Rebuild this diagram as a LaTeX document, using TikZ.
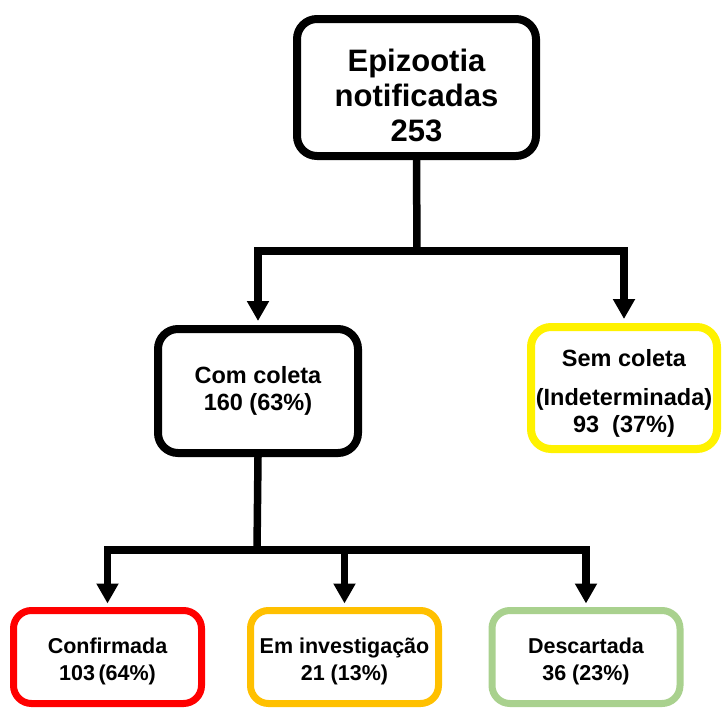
\documentclass[tikz,border=0pt]{standalone}
\usepackage{fontspec}
\setmainfont{Liberation Sans}
\usetikzlibrary{arrows.meta}

\definecolor{laranja}{HTML}{FFC000}
\definecolor{verde}{HTML}{A9D18E}

\tikzset{
	caixa/.style={draw, fill=white, rounded corners=20pt, line width=8pt, align=center, inner sep=0pt},
	caixatopo/.style={caixa, minimum width=239pt, minimum height=137pt, font=\bfseries\fontsize{31}{35}\selectfont},
	caixameio/.style={caixa, minimum width=200pt, minimum height=124pt, font=\bfseries\fontsize{23.5}{27}\selectfont},
	caixabaixo/.style={caixa, line width=7pt, rounded corners=18pt, minimum width=188pt, minimum height=93pt, font=\bfseries\fontsize{21.5}{27}\selectfont},
	linha/.style={line width=7.5pt, line join=miter},
	seta/.style={linha, -{Triangle[width=21pt, length=20pt]}, shorten >=4pt},
}

\begin{document}
\begin{tikzpicture}[x=1pt, y=-1pt]
	\useasboundingbox (0,0) rectangle (723,707);

	\node[caixatopo] (epi) at (416.5,87.5) {\rule{0pt}{39pt}Epizootia\\notificadas\\253};

	\node[caixameio] (com) at (258,391) {Com coleta\\160 (63\%)};
	\node[caixameio, draw=yellow, minimum width=186pt, minimum height=122pt] (sem) at (624,388)
		{\rule{0pt}{27pt}Sem coleta\\[12pt](Indeterminada)\\93~~(37\%)};

	\node[caixabaixo, draw=red] (conf) at (107.5,657) {\rule{0pt}{24pt}Confirmada\\103\,(64\%)};
	\node[caixabaixo, draw=laranja] (inv) at (344.5,657) {\rule{0pt}{24pt}Em investigação\\21 (13\%)};
	\node[caixabaixo, draw=verde] (desc) at (586,657) {\rule{0pt}{25pt}Descartada\\36 (23\%)};

	\coordinate (j1) at (417,251);
	\coordinate (j2) at (257,550);

	\draw[linha] (epi.south) -- (j1);
	\draw[seta] (j1) -| (com.north);
	\draw[seta] (j1) -| (sem.north);

	\draw[linha] (com.south) -- (j2);
	\draw[seta, shorten >=3.5pt] (j2) -| (conf.north);
	\draw[seta, shorten >=3.5pt] (j2) -| (inv.north);
	\draw[seta, shorten >=3.5pt] (j2) -| (desc.north);

\end{tikzpicture}
\end{document}
